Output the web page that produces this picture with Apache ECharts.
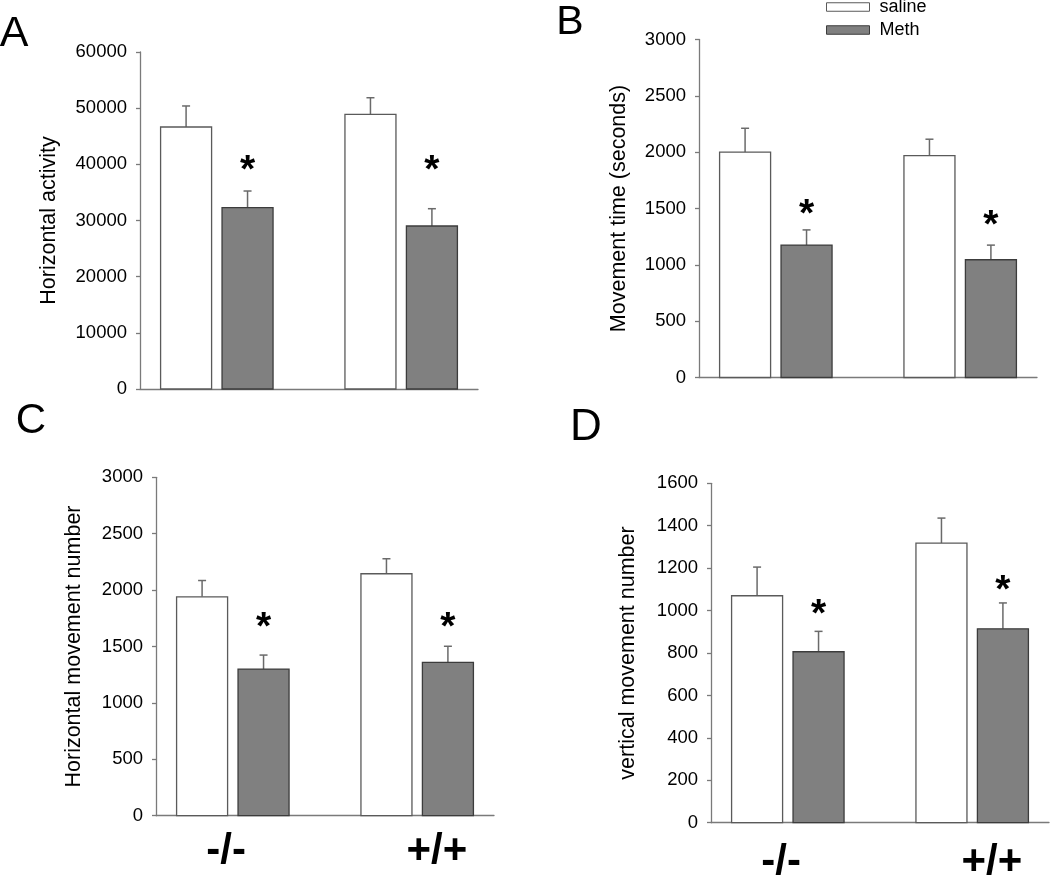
<!DOCTYPE html>
<html><head><meta charset="utf-8">
<script src="https://cdn.jsdelivr.net/npm/echarts@6/dist/echarts.min.js"></script>
<style>html,body{margin:0;padding:0;background:#fff}#c{width:1050px;height:875px}</style>
</head><body><div id="c"></div>
<script>
// ---------- DATA ----------
const groups = ['-/-', '+/+'];
const treatments = ['saline', 'Meth'];

// Panel A: Horizontal activity
const aSaline = [46650, 48900];
const aSalineErr = [3740, 2960];
const aMeth = [32280, 29020];
const aMethErr = [2970, 3080];
const aStar = [40250, 40350];

// Panel B: Movement time (seconds)
const bSaline = [2000, 1970];
const bSalineErr = [212, 145];
const bMeth = [1175, 1045];
const bMethErr = [135, 130];
const bStar = [1515, 1415];

// Panel C: Horizontal movement number
const cSaline = [1940, 2145];
const cSalineErr = [145, 133];
const cMeth = [1300, 1360];
const cMethErr = [124, 142];
const cStar = [1735, 1735];

// Panel D: vertical movement number
const dSaline = [1070, 1318];
const dSalineErr = [135, 118];
const dMeth = [806, 914];
const dMethErr = [96, 122];
const dStar = [1020, 1131];

const aTicks = {max: 60000, interval: 10000};
const bTicks = {max: 3000, interval: 500};
const cTicks = {max: 3000, interval: 500};
const dTicks = {max: 1600, interval: 200};

const panelLetters = ['A', 'B', 'C', 'D'];
const yTitles = ['Horizontal activity', 'Movement time (seconds)', 'Horizontal movement number', 'vertical movement number'];

// ---------- LAYOUT / STYLE ----------
const FONT = '"Liberation Sans", Arial, sans-serif';
const AXIS_COLOR = '#7a7a7a';
const panels = [
  {grid: {left: 140, top: 52, width: 338, height: 337}, ticks: aTicks, sal: aSaline, salE: aSalineErr, me: aMeth, meE: aMethErr, star: aStar, nameGap: 80, xlab: false},
  {grid: {left: 699, top: 39.5, width: 338, height: 338}, ticks: bTicks, sal: bSaline, salE: bSalineErr, me: bMeth, meE: bMethErr, star: bStar, nameGap: 69, xlab: false},
  {grid: {left: 156, top: 477.3, width: 338, height: 338.4}, ticks: cTicks, sal: cSaline, salE: cSalineErr, me: cMeth, meE: cMethErr, star: cStar, nameGap: 71, xlab: true, labMargin: 36},
  {grid: {left: 711, top: 483.3, width: 338, height: 339.4}, ticks: dTicks, sal: dSaline, salE: dSalineErr, me: dMeth, meE: dMethErr, star: dStar, nameGap: 72, xlab: true, labMargin: 40}
];
const X_MAX = 5.5;          // x scale units: one bar pitch = 1
const BAR_W = 0.83;         // bar width in pitch units
const LABEL_POS = [1.14, 4.57];
const styles = [
  {fill: '#ffffff', stroke: '#5a5a5a'},
  {fill: '#808080', stroke: '#3c3c3c'}
];
const letterPos = [
  {x: 14, y: 34, size: 43},
  {x: 570, y: 23, size: 41},
  {x: 31, y: 421, size: 42},
  {x: 586, y: 428, size: 44}
];

function makeRender(k) {
  return function (params, api) {
    const g = api.value(0), v = api.value(1), e = api.value(2);
    const xc = g * 3 + 0.75 + k;
    const base = api.coord([xc, 0]);
    const top = api.coord([xc, v]);
    const errTop = api.coord([xc, v + e]);
    const w = api.size([BAR_W, 0])[0];
    const children = [
      {type: 'line', shape: {x1: top[0], y1: top[1], x2: errTop[0], y2: errTop[1]}, style: {stroke: '#6a6a6a', lineWidth: 1.5}},
      {type: 'line', shape: {x1: errTop[0] - 4, y1: errTop[1], x2: errTop[0] + 4, y2: errTop[1]}, style: {stroke: '#6a6a6a', lineWidth: 1.5}},
      {type: 'rect', shape: {x: base[0] - w / 2, y: top[1], width: w, height: base[1] - top[1]},
        style: {fill: styles[k].fill, stroke: styles[k].stroke, lineWidth: 1.3}}
    ];
    if (k === 1) {
      const s = api.value(3);
      const sp = api.coord([xc, s]);
      children.push({type: 'text', style: {text: '*', x: sp[0], y: sp[1] + 8.5, align: 'center', verticalAlign: 'middle',
        font: 'bold 39px ' + FONT, fill: '#000'}});
    }
    return {type: 'group', children};
  };
}

const grid = [], xAxis = [], yAxis = [], series = [];
panels.forEach((p, i) => {
  grid.push(Object.assign({outerBoundsMode: 'none', containLabel: false}, p.grid));
  xAxis.push({
    type: 'value', gridIndex: i, min: 0, max: X_MAX,
    axisLine: {show: true, onZero: false, lineStyle: {color: AXIS_COLOR, width: 1.3}},
    axisTick: {show: false}, splitLine: {show: false},
    axisLabel: p.xlab ? {
      show: true, customValues: LABEL_POS, margin: p.labMargin, verticalAlign: 'middle',
      formatter: (val) => (val < X_MAX / 2 ? groups[0] : groups[1]),
      fontFamily: FONT, fontSize: 42, fontWeight: 'bold', color: '#000'
    } : {show: false}
  });
  yAxis.push({
    type: 'value', gridIndex: i, min: 0, max: p.ticks.max, interval: p.ticks.interval,
    name: yTitles[i], nameLocation: 'middle', nameGap: p.nameGap, nameRotate: 90,
    nameTextStyle: {fontFamily: FONT, fontSize: 21.5, color: '#000'},
    axisLine: {show: true, lineStyle: {color: AXIS_COLOR, width: 1.3}},
    axisTick: {show: true, length: 4, lineStyle: {color: AXIS_COLOR, width: 1.3}},
    splitLine: {show: false},
    axisLabel: {fontFamily: FONT, fontSize: 18.5, color: '#000', margin: 13, formatter: (v) => String(v)}
  });
  const salData = p.sal.map((v, g) => [g, v, p.salE[g]]);
  const meData = p.me.map((v, g) => [g, v, p.meE[g], p.star[g]]);
  series.push({name: treatments[0], type: 'custom', xAxisIndex: i, yAxisIndex: i, renderItem: makeRender(0), data: salData,
    itemStyle: {color: styles[0].fill, borderColor: styles[0].stroke, borderWidth: 1}, encode: {x: 0, y: [1]}, clip: false, silent: true});
  series.push({name: treatments[1], type: 'custom', xAxisIndex: i, yAxisIndex: i, renderItem: makeRender(1), data: meData,
    itemStyle: {color: styles[1].fill, borderColor: styles[1].stroke, borderWidth: 1}, encode: {x: 0, y: [1]}, clip: false, silent: true});
});

const graphic = panelLetters.map((t, i) => ({
  type: 'text', x: letterPos[i].x, y: letterPos[i].y,
  style: {text: t, align: 'center', verticalAlign: 'middle', font: letterPos[i].size + 'px ' + FONT, fill: '#000'}
}));

const chart = echarts.init(document.getElementById('c'), null, {renderer: 'canvas'});
chart.setOption({
  animation: false,
  backgroundColor: '#fff',
  grid, xAxis, yAxis, series, graphic,
  legend: {
    orient: 'vertical', left: 826, top: -3, padding: 0, itemGap: 3,
    itemWidth: 43, itemHeight: 8.5, icon: 'rect',
    textStyle: {fontFamily: FONT, fontSize: 18, color: '#000', lineHeight: 20, padding: [0, 0, 0, 5]},
    data: [
      {name: treatments[0], itemStyle: {color: styles[0].fill, borderColor: styles[0].stroke, borderWidth: 1}},
      {name: treatments[1], itemStyle: {color: styles[1].fill, borderColor: styles[1].stroke, borderWidth: 1}}
    ],
    selectedMode: false
  }
});
</script>
</body></html>
